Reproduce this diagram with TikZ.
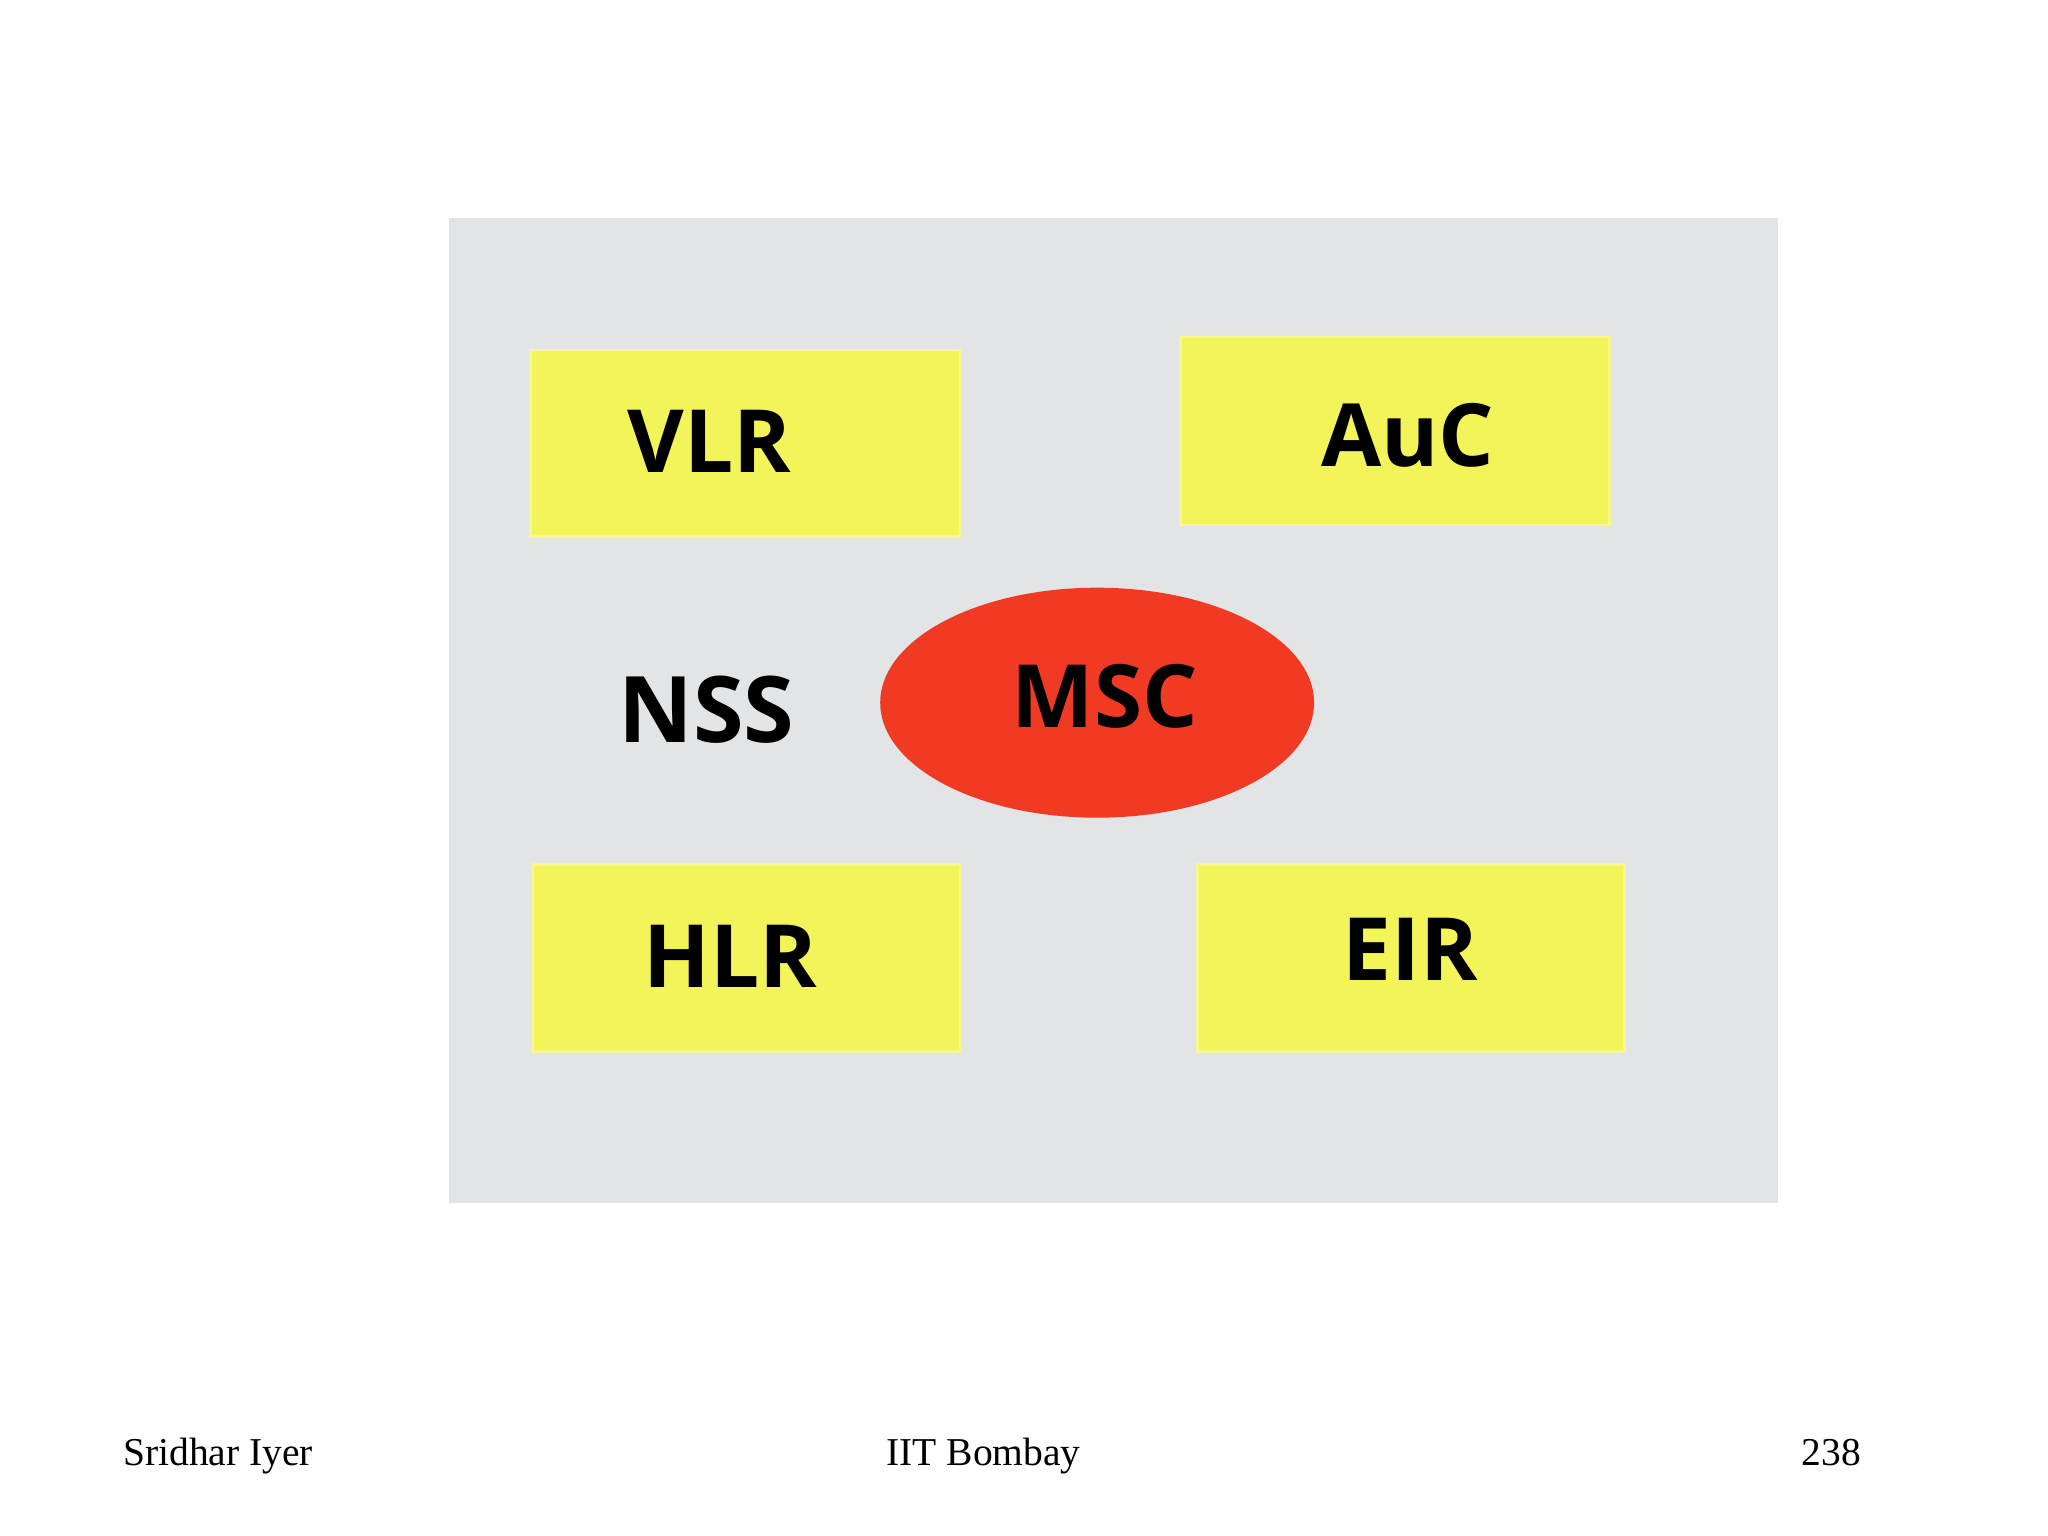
\documentclass[tikz,border=0pt]{standalone}
\usepackage{fontspec}
\setmainfont{Liberation Serif}
\newfontfamily\boxfont{Open Sans}
\usetikzlibrary{shapes.geometric}
\definecolor{bggray}{HTML}{E3E4E5}
\definecolor{boxyellow}{HTML}{F3F35A}
\definecolor{mscred}{HTML}{F03A24}
\tikzset{x=0.01cm,y=-0.01cm,
 ybox/.style={fill=boxyellow,draw=boxyellow!70!white,line width=0.6pt},
 lbl/.style={font=\boxfont\bfseries\fontsize{19}{22}\selectfont},
 foot/.style={font=\fontsize{8.6}{10}\selectfont,anchor=base}}
\begin{document}
\begin{tikzpicture}
\useasboundingbox (0,0) rectangle (1568,1176);
\fill[bggray] (344,167) rectangle (1361,921);
\draw[ybox] (406,268) rectangle (735,411);
\draw[ybox] (904,258) rectangle (1232,402);
\draw[ybox] (408,662) rectangle (735,805);
\draw[ybox] (917,662) rectangle (1244,805);
\node[lbl] (vlr) at (543,338) {VLR};
\node[lbl] (auc) at (1078,333) {AuC};
\node[lbl] (hlr) at (559,732) {HLR};
\node[lbl] (eir) at (1080,727) {EIR};
\node[ellipse,fill=mscred,minimum width=3.32cm,minimum height=1.76cm,inner sep=0pt] (msc) at (840,538) {};
\node[lbl] (msct) at (846,533) {MSC};
\node[font=\boxfont\fontsize{20}{24}\selectfont\bfseries] (nss) at (541,543) {NSS};
\node[foot] (f1) at (167,1122) {Sridhar Iyer};
\node[foot] (f2) at (753,1122) {IIT Bombay};
\node[foot] (f3) at (1402,1122) {238};
\end{tikzpicture}
\end{document}
